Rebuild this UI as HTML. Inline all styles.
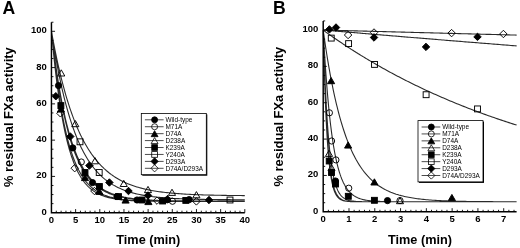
<!DOCTYPE html>
<html><head><meta charset="utf-8"><style>
html,body{margin:0;padding:0;background:#fff;width:520px;height:248px;overflow:hidden}
</style></head><body>
<svg width="520" height="248" viewBox="0 0 520 248" style="display:block;filter:grayscale(1)">
<rect width="520" height="248" fill="#fff"/>
<text x="2.6" y="13.6" style="font-family:'Liberation Sans',sans-serif;font-weight:bold;font-size:17.6px">A</text>
<text x="273.0" y="13.6" style="font-family:'Liberation Sans',sans-serif;font-weight:bold;font-size:17.6px">B</text>
<text transform="translate(13.0,117.1) rotate(-90)" text-anchor="middle" style="font-family:'Liberation Sans',sans-serif;font-weight:bold;font-size:12.9px">% residual FXa activity</text>
<text transform="translate(283.4,116.6) rotate(-90)" text-anchor="middle" style="font-family:'Liberation Sans',sans-serif;font-weight:bold;font-size:12.9px">% residual FXa activity</text>
<text x="148.3" y="243.8" text-anchor="middle" style="font-family:'Liberation Sans',sans-serif;font-weight:bold;font-size:12.7px">Time (min)</text>
<text x="420.0" y="243.8" text-anchor="middle" style="font-family:'Liberation Sans',sans-serif;font-weight:bold;font-size:12.7px">Time (min)</text>
<path d="M51.45,31.30 L51.51,31.82 L51.62,32.88 L51.78,34.32 L51.98,36.06 L52.21,38.06 L52.46,40.29 L52.74,42.72 L53.05,45.32 L53.38,48.08 L53.74,50.97 L54.12,53.99 L54.52,57.11 L54.93,60.31 L55.37,63.60 L55.83,66.94 L56.31,70.33 L56.80,73.77 L57.31,77.23 L57.84,80.71 L58.39,84.20 L58.95,87.69 L59.53,91.17 L60.13,94.64 L60.74,98.08 L61.37,101.50 L62.01,104.88 L62.67,108.23 L63.34,111.52 L64.03,114.77 L64.73,117.97 L65.44,121.10 L66.17,124.18 L66.92,127.19 L67.67,130.14 L68.44,133.02 L69.23,135.83 L70.02,138.57 L70.83,141.23 L71.65,143.82 L72.49,146.34 L73.34,148.78 L74.20,151.14 L75.07,153.43 L75.96,155.65 L76.85,157.79 L77.76,159.86 L78.68,161.85 L79.62,163.77 L80.56,165.62 L81.52,167.40 L82.49,169.11 L83.47,170.75 L84.46,172.32 L85.46,173.83 L86.47,175.28 L87.50,176.66 L88.53,177.99 L89.58,179.25 L90.63,180.46 L91.70,181.61 L92.78,182.71 L93.87,183.75 L94.97,184.75 L96.08,185.70 L97.20,186.60 L98.33,187.45 L99.48,188.27 L100.63,189.04 L101.79,189.77 L102.96,190.46 L104.14,191.11 L105.34,191.73 L106.54,192.32 L107.75,192.87 L108.97,193.40 L110.21,193.89 L111.45,194.36 L112.70,194.79 L113.96,195.21 L115.23,195.60 L116.51,195.96 L117.80,196.30 L119.10,196.63 L120.41,196.93 L121.73,197.22 L123.06,197.48 L124.39,197.73 L125.74,197.97 L127.09,198.19 L128.46,198.39 L129.83,198.58 L131.22,198.76 L132.61,198.93 L134.01,199.09 L135.42,199.24 L136.84,199.37 L138.26,199.50 L139.70,199.62 L141.15,199.73 L142.60,199.83 L144.06,199.92 L145.53,200.01 L147.01,200.10 L148.50,200.17 L150.00,200.24 L151.51,200.31 L153.02,200.37 L154.54,200.43 L156.07,200.48 L157.61,200.53 L159.16,200.57 L160.72,200.61 L162.29,200.65 L163.86,200.69 L165.44,200.72 L167.03,200.75 L168.63,200.78 L170.24,200.81 L171.85,200.83 L173.47,200.85 L175.10,200.87 L176.74,200.89 L178.39,200.91 L180.05,200.92 L181.71,200.94 L183.38,200.95 L185.06,200.96 L186.75,200.97 L188.44,200.98 L190.15,200.99 L191.86,201.00 L193.58,201.01 L195.30,201.02 L197.04,201.02 L198.78,201.03 L200.53,201.03 L202.29,201.04 L204.05,201.04 L205.82,201.05 L207.61,201.05 L209.39,201.06 L211.19,201.06 L212.99,201.06 L214.80,201.06 L216.62,201.07 L218.45,201.07 L220.28,201.07 L222.13,201.07 L223.97,201.07 L225.83,201.08 L227.69,201.08 L229.57,201.08 L231.44,201.08 L233.33,201.08 L235.22,201.08 L237.12,201.08 L239.03,201.08 L240.95,201.08 L242.87,201.08 L244.80,201.09 M51.45,31.30 L51.51,31.80 L51.62,32.82 L51.78,34.20 L51.98,35.88 L52.21,37.80 L52.46,39.95 L52.74,42.29 L53.05,44.80 L53.38,47.46 L53.74,50.26 L54.12,53.17 L54.52,56.19 L54.93,59.30 L55.37,62.48 L55.83,65.72 L56.31,69.01 L56.80,72.35 L57.31,75.72 L57.84,79.11 L58.39,82.51 L58.95,85.92 L59.53,89.32 L60.13,92.71 L60.74,96.09 L61.37,99.44 L62.01,102.76 L62.67,106.05 L63.34,109.29 L64.03,112.50 L64.73,115.65 L65.44,118.75 L66.17,121.80 L66.92,124.79 L67.67,127.72 L68.44,130.58 L69.23,133.38 L70.02,136.12 L70.83,138.78 L71.65,141.38 L72.49,143.90 L73.34,146.35 L74.20,148.74 L75.07,151.05 L75.96,153.29 L76.85,155.45 L77.76,157.55 L78.68,159.58 L79.62,161.53 L80.56,163.42 L81.52,165.24 L82.49,166.99 L83.47,168.67 L84.46,170.29 L85.46,171.85 L86.47,173.34 L87.50,174.77 L88.53,176.14 L89.58,177.46 L90.63,178.72 L91.70,179.92 L92.78,181.07 L93.87,182.16 L94.97,183.21 L96.08,184.21 L97.20,185.16 L98.33,186.06 L99.48,186.93 L100.63,187.75 L101.79,188.52 L102.96,189.26 L104.14,189.97 L105.34,190.63 L106.54,191.26 L107.75,191.86 L108.97,192.42 L110.21,192.96 L111.45,193.47 L112.70,193.94 L113.96,194.39 L115.23,194.82 L116.51,195.22 L117.80,195.60 L119.10,195.96 L120.41,196.29 L121.73,196.61 L123.06,196.91 L124.39,197.19 L125.74,197.45 L127.09,197.70 L128.46,197.93 L129.83,198.14 L131.22,198.35 L132.61,198.54 L134.01,198.72 L135.42,198.88 L136.84,199.04 L138.26,199.19 L139.70,199.32 L141.15,199.45 L142.60,199.57 L144.06,199.68 L145.53,199.78 L147.01,199.88 L148.50,199.97 L150.00,200.05 L151.51,200.13 L153.02,200.20 L154.54,200.27 L156.07,200.33 L157.61,200.39 L159.16,200.44 L160.72,200.49 L162.29,200.54 L163.86,200.58 L165.44,200.62 L167.03,200.66 L168.63,200.69 L170.24,200.73 L171.85,200.76 L173.47,200.78 L175.10,200.81 L176.74,200.83 L178.39,200.85 L180.05,200.87 L181.71,200.89 L183.38,200.91 L185.06,200.92 L186.75,200.94 L188.44,200.95 L190.15,200.96 L191.86,200.97 L193.58,200.98 L195.30,200.99 L197.04,201.00 L198.78,201.01 L200.53,201.01 L202.29,201.02 L204.05,201.03 L205.82,201.03 L207.61,201.04 L209.39,201.04 L211.19,201.05 L212.99,201.05 L214.80,201.05 L216.62,201.06 L218.45,201.06 L220.28,201.06 L222.13,201.07 L223.97,201.07 L225.83,201.07 L227.69,201.07 L229.57,201.07 L231.44,201.08 L233.33,201.08 L235.22,201.08 L237.12,201.08 L239.03,201.08 L240.95,201.08 L242.87,201.08 L244.80,201.08 M51.45,31.30 L51.51,31.91 L51.62,33.13 L51.78,34.79 L51.98,36.79 L52.21,39.09 L52.46,41.65 L52.74,44.43 L53.05,47.40 L53.38,50.55 L53.74,53.84 L54.12,57.25 L54.52,60.78 L54.93,64.39 L55.37,68.07 L55.83,71.80 L56.31,75.58 L56.80,79.39 L57.31,83.21 L57.84,87.03 L58.39,90.85 L58.95,94.65 L59.53,98.43 L60.13,102.17 L60.74,105.87 L61.37,109.52 L62.01,113.11 L62.67,116.64 L63.34,120.11 L64.03,123.50 L64.73,126.82 L65.44,130.06 L66.17,133.22 L66.92,136.29 L67.67,139.28 L68.44,142.18 L69.23,145.00 L70.02,147.72 L70.83,150.35 L71.65,152.90 L72.49,155.35 L73.34,157.71 L74.20,159.99 L75.07,162.17 L75.96,164.27 L76.85,166.29 L77.76,168.22 L78.68,170.06 L79.62,171.83 L80.56,173.52 L81.52,175.13 L82.49,176.66 L83.47,178.12 L84.46,179.52 L85.46,180.84 L86.47,182.09 L87.50,183.29 L88.53,184.42 L89.58,185.49 L90.63,186.50 L91.70,187.46 L92.78,188.37 L93.87,189.22 L94.97,190.03 L96.08,190.79 L97.20,191.51 L98.33,192.18 L99.48,192.82 L100.63,193.41 L101.79,193.97 L102.96,194.50 L104.14,194.99 L105.34,195.45 L106.54,195.88 L107.75,196.29 L108.97,196.66 L110.21,197.02 L111.45,197.34 L112.70,197.65 L113.96,197.94 L115.23,198.20 L116.51,198.45 L117.80,198.68 L119.10,198.90 L120.41,199.10 L121.73,199.28 L123.06,199.45 L124.39,199.61 L125.74,199.76 L127.09,199.90 L128.46,200.02 L129.83,200.14 L131.22,200.25 L132.61,200.35 L134.01,200.44 L135.42,200.53 L136.84,200.60 L138.26,200.68 L139.70,200.74 L141.15,200.80 L142.60,200.86 L144.06,200.91 L145.53,200.96 L147.01,201.00 L148.50,201.04 L150.00,201.08 L151.51,201.11 L153.02,201.14 L154.54,201.17 L156.07,201.20 L157.61,201.22 L159.16,201.24 L160.72,201.26 L162.29,201.28 L163.86,201.29 L165.44,201.31 L167.03,201.32 L168.63,201.34 L170.24,201.35 L171.85,201.36 L173.47,201.37 L175.10,201.37 L176.74,201.38 L178.39,201.39 L180.05,201.40 L181.71,201.40 L183.38,201.41 L185.06,201.41 L186.75,201.41 L188.44,201.42 L190.15,201.42 L191.86,201.43 L193.58,201.43 L195.30,201.43 L197.04,201.43 L198.78,201.44 L200.53,201.44 L202.29,201.44 L204.05,201.44 L205.82,201.44 L207.61,201.44 L209.39,201.44 L211.19,201.44 L212.99,201.45 L214.80,201.45 L216.62,201.45 L218.45,201.45 L220.28,201.45 L222.13,201.45 L223.97,201.45 L225.83,201.45 L227.69,201.45 L229.57,201.45 L231.44,201.45 L233.33,201.45 L235.22,201.45 L237.12,201.45 L239.03,201.45 L240.95,201.45 L242.87,201.45 L244.80,201.45 M51.45,31.30 L51.51,31.62 L51.62,32.28 L51.78,33.16 L51.98,34.24 L52.21,35.49 L52.46,36.88 L52.74,38.41 L53.05,40.06 L53.38,41.81 L53.74,43.67 L54.12,45.62 L54.52,47.64 L54.93,49.75 L55.37,51.92 L55.83,54.15 L56.31,56.44 L56.80,58.77 L57.31,61.15 L57.84,63.56 L58.39,66.01 L58.95,68.48 L59.53,70.98 L60.13,73.49 L60.74,76.02 L61.37,78.56 L62.01,81.10 L62.67,83.64 L63.34,86.19 L64.03,88.73 L64.73,91.26 L65.44,93.78 L66.17,96.29 L66.92,98.79 L67.67,101.26 L68.44,103.71 L69.23,106.14 L70.02,108.55 L70.83,110.93 L71.65,113.28 L72.49,115.60 L73.34,117.89 L74.20,120.15 L75.07,122.37 L75.96,124.55 L76.85,126.70 L77.76,128.82 L78.68,130.89 L79.62,132.93 L80.56,134.92 L81.52,136.88 L82.49,138.79 L83.47,140.67 L84.46,142.50 L85.46,144.30 L86.47,146.05 L87.50,147.76 L88.53,149.43 L89.58,151.06 L90.63,152.64 L91.70,154.19 L92.78,155.69 L93.87,157.16 L94.97,158.59 L96.08,159.97 L97.20,161.32 L98.33,162.62 L99.48,163.89 L100.63,165.13 L101.79,166.32 L102.96,167.48 L104.14,168.60 L105.34,169.68 L106.54,170.74 L107.75,171.75 L108.97,172.74 L110.21,173.69 L111.45,174.61 L112.70,175.49 L113.96,176.35 L115.23,177.18 L116.51,177.98 L117.80,178.75 L119.10,179.49 L120.41,180.20 L121.73,180.89 L123.06,181.55 L124.39,182.19 L125.74,182.80 L127.09,183.39 L128.46,183.96 L129.83,184.50 L131.22,185.02 L132.61,185.52 L134.01,186.00 L135.42,186.47 L136.84,186.91 L138.26,187.33 L139.70,187.74 L141.15,188.13 L142.60,188.50 L144.06,188.86 L145.53,189.20 L147.01,189.53 L148.50,189.84 L150.00,190.14 L151.51,190.42 L153.02,190.70 L154.54,190.96 L156.07,191.20 L157.61,191.44 L159.16,191.67 L160.72,191.88 L162.29,192.09 L163.86,192.28 L165.44,192.47 L167.03,192.65 L168.63,192.82 L170.24,192.98 L171.85,193.13 L173.47,193.28 L175.10,193.41 L176.74,193.55 L178.39,193.67 L180.05,193.79 L181.71,193.90 L183.38,194.01 L185.06,194.11 L186.75,194.21 L188.44,194.30 L190.15,194.38 L191.86,194.47 L193.58,194.54 L195.30,194.62 L197.04,194.69 L198.78,194.75 L200.53,194.82 L202.29,194.87 L204.05,194.93 L205.82,194.98 L207.61,195.03 L209.39,195.08 L211.19,195.12 L212.99,195.17 L214.80,195.21 L216.62,195.24 L218.45,195.28 L220.28,195.31 L222.13,195.34 L223.97,195.37 L225.83,195.40 L227.69,195.43 L229.57,195.45 L231.44,195.48 L233.33,195.50 L235.22,195.52 L237.12,195.54 L239.03,195.56 L240.95,195.57 L242.87,195.59 L244.80,195.61 M51.45,31.30 L51.51,31.81 L51.62,32.85 L51.78,34.26 L51.98,35.97 L52.21,37.93 L52.46,40.12 L52.74,42.50 L53.05,45.06 L53.38,47.77 L53.74,50.62 L54.12,53.58 L54.52,56.65 L54.93,59.81 L55.37,63.04 L55.83,66.33 L56.31,69.68 L56.80,73.06 L57.31,76.48 L57.84,79.91 L58.39,83.36 L58.95,86.81 L59.53,90.25 L60.13,93.68 L60.74,97.09 L61.37,100.47 L62.01,103.83 L62.67,107.14 L63.34,110.42 L64.03,113.64 L64.73,116.82 L65.44,119.94 L66.17,123.00 L66.92,126.00 L67.67,128.94 L68.44,131.81 L69.23,134.62 L70.02,137.35 L70.83,140.02 L71.65,142.61 L72.49,145.13 L73.34,147.58 L74.20,149.95 L75.07,152.26 L75.96,154.48 L76.85,156.64 L77.76,158.72 L78.68,160.73 L79.62,162.67 L80.56,164.54 L81.52,166.33 L82.49,168.06 L83.47,169.73 L84.46,171.32 L85.46,172.86 L86.47,174.33 L87.50,175.73 L88.53,177.08 L89.58,178.37 L90.63,179.60 L91.70,180.78 L92.78,181.90 L93.87,182.98 L94.97,184.00 L96.08,184.97 L97.20,185.90 L98.33,186.78 L99.48,187.61 L100.63,188.41 L101.79,189.16 L102.96,189.88 L104.14,190.56 L105.34,191.20 L106.54,191.81 L107.75,192.38 L108.97,192.92 L110.21,193.44 L111.45,193.92 L112.70,194.38 L113.96,194.81 L115.23,195.22 L116.51,195.60 L117.80,195.96 L119.10,196.30 L120.41,196.62 L121.73,196.92 L123.06,197.21 L124.39,197.47 L125.74,197.72 L127.09,197.95 L128.46,198.17 L129.83,198.37 L131.22,198.56 L132.61,198.74 L134.01,198.91 L135.42,199.07 L136.84,199.21 L138.26,199.35 L139.70,199.48 L141.15,199.59 L142.60,199.70 L144.06,199.81 L145.53,199.90 L147.01,199.99 L148.50,200.08 L150.00,200.15 L151.51,200.22 L153.02,200.29 L154.54,200.35 L156.07,200.41 L157.61,200.46 L159.16,200.51 L160.72,200.56 L162.29,200.60 L163.86,200.64 L165.44,200.68 L167.03,200.71 L168.63,200.74 L170.24,200.77 L171.85,200.79 L173.47,200.82 L175.10,200.84 L176.74,200.86 L178.39,200.88 L180.05,200.90 L181.71,200.91 L183.38,200.93 L185.06,200.94 L186.75,200.96 L188.44,200.97 L190.15,200.98 L191.86,200.99 L193.58,201.00 L195.30,201.00 L197.04,201.01 L198.78,201.02 L200.53,201.03 L202.29,201.03 L204.05,201.04 L205.82,201.04 L207.61,201.05 L209.39,201.05 L211.19,201.05 L212.99,201.06 L214.80,201.06 L216.62,201.06 L218.45,201.07 L220.28,201.07 L222.13,201.07 L223.97,201.07 L225.83,201.07 L227.69,201.07 L229.57,201.08 L231.44,201.08 L233.33,201.08 L235.22,201.08 L237.12,201.08 L239.03,201.08 L240.95,201.08 L242.87,201.08 L244.80,201.08 M51.45,31.30 L51.51,31.68 L51.62,32.45 L51.78,33.49 L51.98,34.76 L52.21,36.23 L52.46,37.87 L52.74,39.66 L53.05,41.59 L53.38,43.64 L53.74,45.80 L54.12,48.07 L54.52,50.43 L54.93,52.87 L55.37,55.38 L55.83,57.95 L56.31,60.59 L56.80,63.27 L57.31,65.99 L57.84,68.75 L58.39,71.54 L58.95,74.35 L59.53,77.17 L60.13,80.01 L60.74,82.86 L61.37,85.71 L62.01,88.55 L62.67,91.39 L63.34,94.22 L64.03,97.03 L64.73,99.83 L65.44,102.60 L66.17,105.34 L66.92,108.06 L67.67,110.75 L68.44,113.41 L69.23,116.03 L70.02,118.61 L70.83,121.16 L71.65,123.66 L72.49,126.12 L73.34,128.53 L74.20,130.90 L75.07,133.23 L75.96,135.51 L76.85,137.73 L77.76,139.91 L78.68,142.04 L79.62,144.12 L80.56,146.16 L81.52,148.14 L82.49,150.06 L83.47,151.94 L84.46,153.77 L85.46,155.55 L86.47,157.28 L87.50,158.96 L88.53,160.59 L89.58,162.17 L90.63,163.70 L91.70,165.19 L92.78,166.62 L93.87,168.02 L94.97,169.36 L96.08,170.66 L97.20,171.92 L98.33,173.13 L99.48,174.30 L100.63,175.43 L101.79,176.52 L102.96,177.57 L104.14,178.58 L105.34,179.56 L106.54,180.49 L107.75,181.39 L108.97,182.25 L110.21,183.09 L111.45,183.88 L112.70,184.65 L113.96,185.38 L115.23,186.08 L116.51,186.76 L117.80,187.40 L119.10,188.02 L120.41,188.61 L121.73,189.18 L123.06,189.72 L124.39,190.24 L125.74,190.73 L127.09,191.20 L128.46,191.65 L129.83,192.08 L131.22,192.49 L132.61,192.88 L134.01,193.25 L135.42,193.61 L136.84,193.95 L138.26,194.27 L139.70,194.57 L141.15,194.86 L142.60,195.14 L144.06,195.40 L145.53,195.65 L147.01,195.88 L148.50,196.11 L150.00,196.32 L151.51,196.52 L153.02,196.71 L154.54,196.89 L156.07,197.06 L157.61,197.22 L159.16,197.38 L160.72,197.52 L162.29,197.66 L163.86,197.79 L165.44,197.91 L167.03,198.03 L168.63,198.14 L170.24,198.24 L171.85,198.34 L173.47,198.43 L175.10,198.52 L176.74,198.60 L178.39,198.67 L180.05,198.75 L181.71,198.81 L183.38,198.88 L185.06,198.94 L186.75,198.99 L188.44,199.05 L190.15,199.10 L191.86,199.14 L193.58,199.19 L195.30,199.23 L197.04,199.27 L198.78,199.31 L200.53,199.34 L202.29,199.37 L204.05,199.40 L205.82,199.43 L207.61,199.46 L209.39,199.48 L211.19,199.50 L212.99,199.53 L214.80,199.55 L216.62,199.57 L218.45,199.58 L220.28,199.60 L222.13,199.61 L223.97,199.63 L225.83,199.64 L227.69,199.66 L229.57,199.67 L231.44,199.68 L233.33,199.69 L235.22,199.70 L237.12,199.71 L239.03,199.71 L240.95,199.72 L242.87,199.73 L244.80,199.74 M51.45,31.30 L51.51,31.68 L51.62,32.45 L51.78,33.49 L51.98,34.76 L52.21,36.23 L52.46,37.87 L52.74,39.66 L53.05,41.59 L53.38,43.64 L53.74,45.80 L54.12,48.07 L54.52,50.43 L54.93,52.87 L55.37,55.38 L55.83,57.95 L56.31,60.59 L56.80,63.27 L57.31,65.99 L57.84,68.75 L58.39,71.54 L58.95,74.35 L59.53,77.17 L60.13,80.01 L60.74,82.86 L61.37,85.71 L62.01,88.55 L62.67,91.39 L63.34,94.22 L64.03,97.03 L64.73,99.83 L65.44,102.60 L66.17,105.34 L66.92,108.06 L67.67,110.75 L68.44,113.41 L69.23,116.03 L70.02,118.61 L70.83,121.16 L71.65,123.66 L72.49,126.12 L73.34,128.53 L74.20,130.90 L75.07,133.23 L75.96,135.51 L76.85,137.73 L77.76,139.91 L78.68,142.04 L79.62,144.12 L80.56,146.16 L81.52,148.14 L82.49,150.06 L83.47,151.94 L84.46,153.77 L85.46,155.55 L86.47,157.28 L87.50,158.96 L88.53,160.59 L89.58,162.17 L90.63,163.70 L91.70,165.19 L92.78,166.62 L93.87,168.02 L94.97,169.36 L96.08,170.66 L97.20,171.92 L98.33,173.13 L99.48,174.30 L100.63,175.43 L101.79,176.52 L102.96,177.57 L104.14,178.58 L105.34,179.56 L106.54,180.49 L107.75,181.39 L108.97,182.25 L110.21,183.09 L111.45,183.88 L112.70,184.65 L113.96,185.38 L115.23,186.08 L116.51,186.76 L117.80,187.40 L119.10,188.02 L120.41,188.61 L121.73,189.18 L123.06,189.72 L124.39,190.24 L125.74,190.73 L127.09,191.20 L128.46,191.65 L129.83,192.08 L131.22,192.49 L132.61,192.88 L134.01,193.25 L135.42,193.61 L136.84,193.95 L138.26,194.27 L139.70,194.57 L141.15,194.86 L142.60,195.14 L144.06,195.40 L145.53,195.65 L147.01,195.88 L148.50,196.11 L150.00,196.32 L151.51,196.52 L153.02,196.71 L154.54,196.89 L156.07,197.06 L157.61,197.22 L159.16,197.38 L160.72,197.52 L162.29,197.66 L163.86,197.79 L165.44,197.91 L167.03,198.03 L168.63,198.14 L170.24,198.24 L171.85,198.34 L173.47,198.43 L175.10,198.52 L176.74,198.60 L178.39,198.67 L180.05,198.75 L181.71,198.81 L183.38,198.88 L185.06,198.94 L186.75,198.99 L188.44,199.05 L190.15,199.10 L191.86,199.14 L193.58,199.19 L195.30,199.23 L197.04,199.27 L198.78,199.31 L200.53,199.34 L202.29,199.37 L204.05,199.40 L205.82,199.43 L207.61,199.46 L209.39,199.48 L211.19,199.50 L212.99,199.53 L214.80,199.55 L216.62,199.57 L218.45,199.58 L220.28,199.60 L222.13,199.61 L223.97,199.63 L225.83,199.64 L227.69,199.66 L229.57,199.67 L231.44,199.68 L233.33,199.69 L235.22,199.70 L237.12,199.71 L239.03,199.71 L240.95,199.72 L242.87,199.73 L244.80,199.74 M51.45,31.30 L51.51,31.95 L51.62,33.25 L51.78,35.02 L51.98,37.15 L52.21,39.60 L52.46,42.32 L52.74,45.27 L53.05,48.42 L53.38,51.75 L53.74,55.23 L54.12,58.84 L54.52,62.55 L54.93,66.35 L55.37,70.21 L55.83,74.13 L56.31,78.08 L56.80,82.06 L57.31,86.04 L57.84,90.02 L58.39,93.98 L58.95,97.92 L59.53,101.82 L60.13,105.67 L60.74,109.47 L61.37,113.21 L62.01,116.89 L62.67,120.49 L63.34,124.01 L64.03,127.45 L64.73,130.81 L65.44,134.08 L66.17,137.25 L66.92,140.33 L67.67,143.32 L68.44,146.21 L69.23,149.00 L70.02,151.70 L70.83,154.29 L71.65,156.79 L72.49,159.19 L73.34,161.50 L74.20,163.71 L75.07,165.83 L75.96,167.86 L76.85,169.80 L77.76,171.65 L78.68,173.41 L79.62,175.09 L80.56,176.69 L81.52,178.21 L82.49,179.65 L83.47,181.02 L84.46,182.32 L85.46,183.54 L86.47,184.71 L87.50,185.80 L88.53,186.84 L89.58,187.82 L90.63,188.74 L91.70,189.61 L92.78,190.42 L93.87,191.19 L94.97,191.91 L96.08,192.59 L97.20,193.22 L98.33,193.82 L99.48,194.37 L100.63,194.89 L101.79,195.38 L102.96,195.83 L104.14,196.26 L105.34,196.65 L106.54,197.02 L107.75,197.36 L108.97,197.68 L110.21,197.97 L111.45,198.25 L112.70,198.50 L113.96,198.74 L115.23,198.96 L116.51,199.16 L117.80,199.35 L119.10,199.52 L120.41,199.68 L121.73,199.83 L123.06,199.97 L124.39,200.09 L125.74,200.21 L127.09,200.32 L128.46,200.41 L129.83,200.50 L131.22,200.59 L132.61,200.66 L134.01,200.73 L135.42,200.80 L136.84,200.86 L138.26,200.91 L139.70,200.96 L141.15,201.00 L142.60,201.05 L144.06,201.08 L145.53,201.12 L147.01,201.15 L148.50,201.18 L150.00,201.20 L151.51,201.23 L153.02,201.25 L154.54,201.27 L156.07,201.29 L157.61,201.30 L159.16,201.32 L160.72,201.33 L162.29,201.34 L163.86,201.35 L165.44,201.36 L167.03,201.37 L168.63,201.38 L170.24,201.39 L171.85,201.39 L173.47,201.40 L175.10,201.41 L176.74,201.41 L178.39,201.42 L180.05,201.42 L181.71,201.42 L183.38,201.43 L185.06,201.43 L186.75,201.43 L188.44,201.43 L190.15,201.44 L191.86,201.44 L193.58,201.44 L195.30,201.44 L197.04,201.44 L198.78,201.44 L200.53,201.44 L202.29,201.45 L204.05,201.45 L205.82,201.45 L207.61,201.45 L209.39,201.45 L211.19,201.45 L212.99,201.45 L214.80,201.45 L216.62,201.45 L218.45,201.45 L220.28,201.45 L222.13,201.45 L223.97,201.45 L225.83,201.45 L227.69,201.45 L229.57,201.45 L231.44,201.45 L233.33,201.45 L235.22,201.45 L237.12,201.45 L239.03,201.45 L240.95,201.45 L242.87,201.45 L244.80,201.45" fill="none" stroke="#2a2a2a" stroke-width="1.1" stroke-linejoin="round"/>
<path d="M323.20,30.00 L323.26,32.44 L323.37,37.28 L323.53,43.65 L323.73,51.12 L323.96,59.37 L324.21,68.14 L324.49,77.20 L324.80,86.38 L325.13,95.52 L325.49,104.49 L325.87,113.19 L326.27,121.53 L326.68,129.46 L327.12,136.92 L327.58,143.89 L328.06,150.35 L328.55,156.30 L329.07,161.73 L329.60,166.67 L330.14,171.13 L330.71,175.13 L331.29,178.71 L331.88,181.89 L332.49,184.69 L333.12,187.16 L333.76,189.32 L334.42,191.20 L335.09,192.83 L335.78,194.23 L336.48,195.44 L337.20,196.48 L337.93,197.36 L338.67,198.11 L339.43,198.74 L340.20,199.27 L340.98,199.72 L341.78,200.09 L342.59,200.40 L343.41,200.66 L344.25,200.88 L345.09,201.05 L345.95,201.20 L346.83,201.31 L347.71,201.41 L348.61,201.49 L349.52,201.55 L350.44,201.60 L351.37,201.64 L352.32,201.68 L353.28,201.70 L354.24,201.72 L355.22,201.74 L356.21,201.75 L357.22,201.76 L358.23,201.77 L359.25,201.78 L360.29,201.78 L361.34,201.79 L362.39,201.79 L363.46,201.79 L364.54,201.79 L365.63,201.80 L366.73,201.80 L367.84,201.80 L368.96,201.80 L370.10,201.80 L371.24,201.80 L372.39,201.80 L373.55,201.80 L374.73,201.80 L375.91,201.80 L377.10,201.80 L378.30,201.80 L379.52,201.80 L380.74,201.80 L381.97,201.80 L383.21,201.80 L384.47,201.80 L385.73,201.80 L387.00,201.80 L388.28,201.80 L389.57,201.80 L390.87,201.80 L392.18,201.80 L393.50,201.80 L394.82,201.80 L396.16,201.80 L397.51,201.80 L398.86,201.80 L400.23,201.80 L401.60,201.80 L402.99,201.80 L404.38,201.80 L405.78,201.80 L407.19,201.80 L408.61,201.80 L410.04,201.80 L411.47,201.80 L412.92,201.80 L414.37,201.80 L415.84,201.80 L417.31,201.80 L418.79,201.80 L420.28,201.80 L421.78,201.80 L423.28,201.80 L424.80,201.80 L426.32,201.80 L427.85,201.80 L429.39,201.80 L430.94,201.80 L432.50,201.80 L434.06,201.80 L435.64,201.80 L437.22,201.80 L438.81,201.80 L440.41,201.80 L442.02,201.80 L443.63,201.80 L445.25,201.80 L446.89,201.80 L448.53,201.80 L450.17,201.80 L451.83,201.80 L453.49,201.80 L455.16,201.80 L456.84,201.80 L458.53,201.80 L460.23,201.80 L461.93,201.80 L463.64,201.80 L465.36,201.80 L467.09,201.80 L468.82,201.80 L470.57,201.80 L472.32,201.80 L474.08,201.80 L475.84,201.80 L477.61,201.80 L479.40,201.80 L481.18,201.80 L482.98,201.80 L484.79,201.80 L486.60,201.80 L488.42,201.80 L490.24,201.80 L492.08,201.80 L493.92,201.80 L495.77,201.80 L497.63,201.80 L499.49,201.80 L501.36,201.80 L503.24,201.80 L505.13,201.80 L507.02,201.80 L508.92,201.80 L510.83,201.80 L512.75,201.80 L514.67,201.80 L516.60,201.80 M323.20,30.00 L323.26,31.07 L323.37,33.22 L323.53,36.11 L323.73,39.58 L323.96,43.53 L324.21,47.87 L324.49,52.52 L324.80,57.44 L325.13,62.56 L325.49,67.82 L325.87,73.20 L326.27,78.65 L326.68,84.12 L327.12,89.60 L327.58,95.04 L328.06,100.42 L328.55,105.73 L329.07,110.93 L329.60,116.01 L330.14,120.96 L330.71,125.76 L331.29,130.40 L331.88,134.87 L332.49,139.18 L333.12,143.30 L333.76,147.24 L334.42,151.00 L335.09,154.58 L335.78,157.97 L336.48,161.19 L337.20,164.22 L337.93,167.08 L338.67,169.77 L339.43,172.30 L340.20,174.67 L340.98,176.88 L341.78,178.95 L342.59,180.87 L343.41,182.66 L344.25,184.32 L345.09,185.86 L345.95,187.28 L346.83,188.59 L347.71,189.80 L348.61,190.92 L349.52,191.94 L350.44,192.88 L351.37,193.74 L352.32,194.53 L353.28,195.24 L354.24,195.90 L355.22,196.49 L356.21,197.04 L357.22,197.53 L358.23,197.97 L359.25,198.38 L360.29,198.74 L361.34,199.07 L362.39,199.36 L363.46,199.63 L364.54,199.87 L365.63,200.09 L366.73,200.28 L367.84,200.45 L368.96,200.61 L370.10,200.75 L371.24,200.87 L372.39,200.98 L373.55,201.08 L374.73,201.16 L375.91,201.24 L377.10,201.31 L378.30,201.37 L379.52,201.42 L380.74,201.47 L381.97,201.51 L383.21,201.55 L384.47,201.58 L385.73,201.61 L387.00,201.63 L388.28,201.65 L389.57,201.67 L390.87,201.69 L392.18,201.71 L393.50,201.72 L394.82,201.73 L396.16,201.74 L397.51,201.75 L398.86,201.75 L400.23,201.76 L401.60,201.77 L402.99,201.77 L404.38,201.78 L405.78,201.78 L407.19,201.78 L408.61,201.78 L410.04,201.79 L411.47,201.79 L412.92,201.79 L414.37,201.79 L415.84,201.79 L417.31,201.79 L418.79,201.80 L420.28,201.80 L421.78,201.80 L423.28,201.80 L424.80,201.80 L426.32,201.80 L427.85,201.80 L429.39,201.80 L430.94,201.80 L432.50,201.80 L434.06,201.80 L435.64,201.80 L437.22,201.80 L438.81,201.80 L440.41,201.80 L442.02,201.80 L443.63,201.80 L445.25,201.80 L446.89,201.80 L448.53,201.80 L450.17,201.80 L451.83,201.80 L453.49,201.80 L455.16,201.80 L456.84,201.80 L458.53,201.80 L460.23,201.80 L461.93,201.80 L463.64,201.80 L465.36,201.80 L467.09,201.80 L468.82,201.80 L470.57,201.80 L472.32,201.80 L474.08,201.80 L475.84,201.80 L477.61,201.80 L479.40,201.80 L481.18,201.80 L482.98,201.80 L484.79,201.80 L486.60,201.80 L488.42,201.80 L490.24,201.80 L492.08,201.80 L493.92,201.80 L495.77,201.80 L497.63,201.80 L499.49,201.80 L501.36,201.80 L503.24,201.80 L505.13,201.80 L507.02,201.80 L508.92,201.80 L510.83,201.80 L512.75,201.80 L514.67,201.80 L516.60,201.80 M323.20,30.00 L323.26,30.42 L323.37,31.27 L323.53,32.43 L323.73,33.83 L323.96,35.45 L324.21,37.25 L324.49,39.23 L324.80,41.35 L325.13,43.61 L325.49,45.99 L325.87,48.48 L326.27,51.06 L326.68,53.73 L327.12,56.48 L327.58,59.29 L328.06,62.16 L328.55,65.07 L329.07,68.03 L329.60,71.02 L330.14,74.04 L330.71,77.07 L331.29,80.12 L331.88,83.18 L332.49,86.23 L333.12,89.28 L333.76,92.32 L334.42,95.35 L335.09,98.36 L335.78,101.35 L336.48,104.31 L337.20,107.24 L337.93,110.14 L338.67,113.00 L339.43,115.82 L340.20,118.60 L340.98,121.33 L341.78,124.02 L342.59,126.66 L343.41,129.25 L344.25,131.79 L345.09,134.28 L345.95,136.72 L346.83,139.10 L347.71,141.42 L348.61,143.69 L349.52,145.90 L350.44,148.05 L351.37,150.15 L352.32,152.19 L353.28,154.18 L354.24,156.10 L355.22,157.97 L356.21,159.79 L357.22,161.55 L358.23,163.25 L359.25,164.90 L360.29,166.49 L361.34,168.03 L362.39,169.52 L363.46,170.96 L364.54,172.35 L365.63,173.69 L366.73,174.98 L367.84,176.22 L368.96,177.41 L370.10,178.56 L371.24,179.67 L372.39,180.73 L373.55,181.75 L374.73,182.73 L375.91,183.66 L377.10,184.56 L378.30,185.43 L379.52,186.25 L380.74,187.04 L381.97,187.80 L383.21,188.52 L384.47,189.21 L385.73,189.87 L387.00,190.50 L388.28,191.10 L389.57,191.67 L390.87,192.22 L392.18,192.74 L393.50,193.24 L394.82,193.71 L396.16,194.16 L397.51,194.58 L398.86,194.99 L400.23,195.37 L401.60,195.74 L402.99,196.09 L404.38,196.42 L405.78,196.73 L407.19,197.03 L408.61,197.31 L410.04,197.57 L411.47,197.82 L412.92,198.06 L414.37,198.29 L415.84,198.50 L417.31,198.70 L418.79,198.89 L420.28,199.07 L421.78,199.24 L423.28,199.40 L424.80,199.55 L426.32,199.69 L427.85,199.82 L429.39,199.95 L430.94,200.07 L432.50,200.18 L434.06,200.28 L435.64,200.38 L437.22,200.47 L438.81,200.56 L440.41,200.64 L442.02,200.72 L443.63,200.79 L445.25,200.86 L446.89,200.92 L448.53,200.98 L450.17,201.04 L451.83,201.09 L453.49,201.14 L455.16,201.18 L456.84,201.23 L458.53,201.27 L460.23,201.30 L461.93,201.34 L463.64,201.37 L465.36,201.40 L467.09,201.43 L468.82,201.46 L470.57,201.48 L472.32,201.50 L474.08,201.53 L475.84,201.55 L477.61,201.56 L479.40,201.58 L481.18,201.60 L482.98,201.61 L484.79,201.63 L486.60,201.64 L488.42,201.65 L490.24,201.66 L492.08,201.67 L493.92,201.68 L495.77,201.69 L497.63,201.70 L499.49,201.71 L501.36,201.72 L503.24,201.72 L505.13,201.73 L507.02,201.73 L508.92,201.74 L510.83,201.74 L512.75,201.75 L514.67,201.75 L516.60,201.76 M323.20,30.00 L323.26,31.83 L323.37,35.49 L323.53,40.34 L323.73,46.10 L323.96,52.54 L324.21,59.48 L324.49,66.78 L324.80,74.31 L325.13,81.96 L325.49,89.63 L325.87,97.24 L326.27,104.71 L326.68,111.99 L327.12,119.04 L327.58,125.80 L328.06,132.25 L328.55,138.37 L329.07,144.14 L329.60,149.56 L330.14,154.62 L330.71,159.32 L331.29,163.66 L331.88,167.67 L332.49,171.34 L333.12,174.70 L333.76,177.76 L334.42,180.53 L335.09,183.03 L335.78,185.28 L336.48,187.30 L337.20,189.11 L337.93,190.72 L338.67,192.15 L339.43,193.42 L340.20,194.54 L340.98,195.53 L341.78,196.39 L342.59,197.15 L343.41,197.81 L344.25,198.38 L345.09,198.88 L345.95,199.31 L346.83,199.69 L347.71,200.01 L348.61,200.28 L349.52,200.52 L350.44,200.72 L351.37,200.89 L352.32,201.04 L353.28,201.16 L354.24,201.27 L355.22,201.36 L356.21,201.43 L357.22,201.50 L358.23,201.55 L359.25,201.59 L360.29,201.63 L361.34,201.66 L362.39,201.68 L363.46,201.71 L364.54,201.72 L365.63,201.74 L366.73,201.75 L367.84,201.76 L368.96,201.77 L370.10,201.77 L371.24,201.78 L372.39,201.78 L373.55,201.79 L374.73,201.79 L375.91,201.79 L377.10,201.79 L378.30,201.79 L379.52,201.80 L380.74,201.80 L381.97,201.80 L383.21,201.80 L384.47,201.80 L385.73,201.80 L387.00,201.80 L388.28,201.80 L389.57,201.80 L390.87,201.80 L392.18,201.80 L393.50,201.80 L394.82,201.80 L396.16,201.80 L397.51,201.80 L398.86,201.80 L400.23,201.80 L401.60,201.80 L402.99,201.80 L404.38,201.80 L405.78,201.80 L407.19,201.80 L408.61,201.80 L410.04,201.80 L411.47,201.80 L412.92,201.80 L414.37,201.80 L415.84,201.80 L417.31,201.80 L418.79,201.80 L420.28,201.80 L421.78,201.80 L423.28,201.80 L424.80,201.80 L426.32,201.80 L427.85,201.80 L429.39,201.80 L430.94,201.80 L432.50,201.80 L434.06,201.80 L435.64,201.80 L437.22,201.80 L438.81,201.80 L440.41,201.80 L442.02,201.80 L443.63,201.80 L445.25,201.80 L446.89,201.80 L448.53,201.80 L450.17,201.80 L451.83,201.80 L453.49,201.80 L455.16,201.80 L456.84,201.80 L458.53,201.80 L460.23,201.80 L461.93,201.80 L463.64,201.80 L465.36,201.80 L467.09,201.80 L468.82,201.80 L470.57,201.80 L472.32,201.80 L474.08,201.80 L475.84,201.80 L477.61,201.80 L479.40,201.80 L481.18,201.80 L482.98,201.80 L484.79,201.80 L486.60,201.80 L488.42,201.80 L490.24,201.80 L492.08,201.80 L493.92,201.80 L495.77,201.80 L497.63,201.80 L499.49,201.80 L501.36,201.80 L503.24,201.80 L505.13,201.80 L507.02,201.80 L508.92,201.80 L510.83,201.80 L512.75,201.80 L514.67,201.80 L516.60,201.80 M323.20,30.00 L323.26,32.28 L323.37,36.83 L323.53,42.83 L323.73,49.88 L323.96,57.69 L324.21,66.02 L324.49,74.67 L324.80,83.47 L325.13,92.28 L325.49,100.97 L325.87,109.44 L326.27,117.62 L326.68,125.44 L327.12,132.85 L327.58,139.82 L328.06,146.32 L328.55,152.36 L329.07,157.92 L329.60,163.01 L330.14,167.64 L330.71,171.84 L331.29,175.62 L331.88,179.01 L332.49,182.04 L333.12,184.72 L333.76,187.09 L334.42,189.18 L335.09,191.01 L335.78,192.60 L336.48,193.99 L337.20,195.19 L337.93,196.22 L338.67,197.10 L339.43,197.86 L340.20,198.51 L340.98,199.06 L341.78,199.52 L342.59,199.91 L343.41,200.24 L344.25,200.52 L345.09,200.75 L345.95,200.94 L346.83,201.10 L347.71,201.23 L348.61,201.34 L349.52,201.42 L350.44,201.50 L351.37,201.56 L352.32,201.60 L353.28,201.64 L354.24,201.68 L355.22,201.70 L356.21,201.72 L357.22,201.74 L358.23,201.75 L359.25,201.76 L360.29,201.77 L361.34,201.78 L362.39,201.78 L363.46,201.79 L364.54,201.79 L365.63,201.79 L366.73,201.79 L367.84,201.80 L368.96,201.80 L370.10,201.80 L371.24,201.80 L372.39,201.80 L373.55,201.80 L374.73,201.80 L375.91,201.80 L377.10,201.80 L378.30,201.80 L379.52,201.80 L380.74,201.80 L381.97,201.80 L383.21,201.80 L384.47,201.80 L385.73,201.80 L387.00,201.80 L388.28,201.80 L389.57,201.80 L390.87,201.80 L392.18,201.80 L393.50,201.80 L394.82,201.80 L396.16,201.80 L397.51,201.80 L398.86,201.80 L400.23,201.80 L401.60,201.80 L402.99,201.80 L404.38,201.80 L405.78,201.80 L407.19,201.80 L408.61,201.80 L410.04,201.80 L411.47,201.80 L412.92,201.80 L414.37,201.80 L415.84,201.80 L417.31,201.80 L418.79,201.80 L420.28,201.80 L421.78,201.80 L423.28,201.80 L424.80,201.80 L426.32,201.80 L427.85,201.80 L429.39,201.80 L430.94,201.80 L432.50,201.80 L434.06,201.80 L435.64,201.80 L437.22,201.80 L438.81,201.80 L440.41,201.80 L442.02,201.80 L443.63,201.80 L445.25,201.80 L446.89,201.80 L448.53,201.80 L450.17,201.80 L451.83,201.80 L453.49,201.80 L455.16,201.80 L456.84,201.80 L458.53,201.80 L460.23,201.80 L461.93,201.80 L463.64,201.80 L465.36,201.80 L467.09,201.80 L468.82,201.80 L470.57,201.80 L472.32,201.80 L474.08,201.80 L475.84,201.80 L477.61,201.80 L479.40,201.80 L481.18,201.80 L482.98,201.80 L484.79,201.80 L486.60,201.80 L488.42,201.80 L490.24,201.80 L492.08,201.80 L493.92,201.80 L495.77,201.80 L497.63,201.80 L499.49,201.80 L501.36,201.80 L503.24,201.80 L505.13,201.80 L507.02,201.80 L508.92,201.80 L510.83,201.80 L512.75,201.80 L514.67,201.80 L516.60,201.80 M323.20,30.18 L323.26,30.22 L323.37,30.31 L323.53,30.42 L323.73,30.56 L323.96,30.73 L324.21,30.91 L324.49,31.11 L324.80,31.34 L325.13,31.57 L325.49,31.83 L325.87,32.10 L326.27,32.38 L326.68,32.68 L327.12,32.99 L327.58,33.32 L328.06,33.66 L328.55,34.01 L329.07,34.37 L329.60,34.74 L330.14,35.12 L330.71,35.52 L331.29,35.92 L331.88,36.34 L332.49,36.77 L333.12,37.20 L333.76,37.64 L334.42,38.10 L335.09,38.56 L335.78,39.03 L336.48,39.51 L337.20,40.00 L337.93,40.49 L338.67,41.00 L339.43,41.51 L340.20,42.03 L340.98,42.55 L341.78,43.08 L342.59,43.62 L343.41,44.17 L344.25,44.72 L345.09,45.28 L345.95,45.85 L346.83,46.42 L347.71,46.99 L348.61,47.58 L349.52,48.16 L350.44,48.76 L351.37,49.36 L352.32,49.96 L353.28,50.57 L354.24,51.18 L355.22,51.80 L356.21,52.42 L357.22,53.05 L358.23,53.68 L359.25,54.32 L360.29,54.96 L361.34,55.60 L362.39,56.25 L363.46,56.90 L364.54,57.55 L365.63,58.21 L366.73,58.87 L367.84,59.53 L368.96,60.20 L370.10,60.87 L371.24,61.54 L372.39,62.22 L373.55,62.90 L374.73,63.58 L375.91,64.26 L377.10,64.95 L378.30,65.64 L379.52,66.33 L380.74,67.02 L381.97,67.71 L383.21,68.41 L384.47,69.10 L385.73,69.80 L387.00,70.50 L388.28,71.20 L389.57,71.91 L390.87,72.61 L392.18,73.32 L393.50,74.02 L394.82,74.73 L396.16,75.44 L397.51,76.15 L398.86,76.86 L400.23,77.57 L401.60,78.28 L402.99,78.99 L404.38,79.70 L405.78,80.41 L407.19,81.13 L408.61,81.84 L410.04,82.55 L411.47,83.26 L412.92,83.98 L414.37,84.69 L415.84,85.40 L417.31,86.11 L418.79,86.82 L420.28,87.54 L421.78,88.25 L423.28,88.96 L424.80,89.67 L426.32,90.38 L427.85,91.08 L429.39,91.79 L430.94,92.50 L432.50,93.20 L434.06,93.91 L435.64,94.61 L437.22,95.32 L438.81,96.02 L440.41,96.72 L442.02,97.42 L443.63,98.12 L445.25,98.81 L446.89,99.51 L448.53,100.20 L450.17,100.89 L451.83,101.58 L453.49,102.27 L455.16,102.96 L456.84,103.65 L458.53,104.33 L460.23,105.01 L461.93,105.70 L463.64,106.37 L465.36,107.05 L467.09,107.73 L468.82,108.40 L470.57,109.07 L472.32,109.74 L474.08,110.41 L475.84,111.07 L477.61,111.73 L479.40,112.39 L481.18,113.05 L482.98,113.71 L484.79,114.36 L486.60,115.01 L488.42,115.66 L490.24,116.31 L492.08,116.95 L493.92,117.59 L495.77,118.23 L497.63,118.87 L499.49,119.50 L501.36,120.13 L503.24,120.76 L505.13,121.39 L507.02,122.01 L508.92,122.63 L510.83,123.25 L512.75,123.87 L514.67,124.48 L516.60,125.09 M323.20,30.00 L323.26,30.00 L323.37,30.01 L323.53,30.03 L323.73,30.05 L323.96,30.06 L324.21,30.09 L324.49,30.11 L324.80,30.14 L325.13,30.17 L325.49,30.20 L325.87,30.23 L326.27,30.26 L326.68,30.30 L327.12,30.34 L327.58,30.38 L328.06,30.42 L328.55,30.46 L329.07,30.50 L329.60,30.55 L330.14,30.60 L330.71,30.64 L331.29,30.69 L331.88,30.75 L332.49,30.80 L333.12,30.85 L333.76,30.91 L334.42,30.96 L335.09,31.02 L335.78,31.08 L336.48,31.14 L337.20,31.20 L337.93,31.26 L338.67,31.33 L339.43,31.39 L340.20,31.46 L340.98,31.52 L341.78,31.59 L342.59,31.66 L343.41,31.73 L344.25,31.80 L345.09,31.87 L345.95,31.95 L346.83,32.02 L347.71,32.10 L348.61,32.17 L349.52,32.25 L350.44,32.33 L351.37,32.41 L352.32,32.49 L353.28,32.57 L354.24,32.65 L355.22,32.73 L356.21,32.82 L357.22,32.90 L358.23,32.99 L359.25,33.07 L360.29,33.16 L361.34,33.25 L362.39,33.34 L363.46,33.43 L364.54,33.52 L365.63,33.61 L366.73,33.71 L367.84,33.80 L368.96,33.89 L370.10,33.99 L371.24,34.09 L372.39,34.18 L373.55,34.28 L374.73,34.38 L375.91,34.48 L377.10,34.58 L378.30,34.68 L379.52,34.78 L380.74,34.88 L381.97,34.99 L383.21,35.09 L384.47,35.19 L385.73,35.30 L387.00,35.41 L388.28,35.51 L389.57,35.62 L390.87,35.73 L392.18,35.84 L393.50,35.95 L394.82,36.06 L396.16,36.17 L397.51,36.28 L398.86,36.39 L400.23,36.51 L401.60,36.62 L402.99,36.73 L404.38,36.85 L405.78,36.97 L407.19,37.08 L408.61,37.20 L410.04,37.32 L411.47,37.44 L412.92,37.56 L414.37,37.68 L415.84,37.80 L417.31,37.92 L418.79,38.04 L420.28,38.16 L421.78,38.28 L423.28,38.41 L424.80,38.53 L426.32,38.66 L427.85,38.78 L429.39,38.91 L430.94,39.03 L432.50,39.16 L434.06,39.29 L435.64,39.42 L437.22,39.55 L438.81,39.68 L440.41,39.81 L442.02,39.94 L443.63,40.07 L445.25,40.20 L446.89,40.33 L448.53,40.47 L450.17,40.60 L451.83,40.73 L453.49,40.87 L455.16,41.00 L456.84,41.14 L458.53,41.28 L460.23,41.41 L461.93,41.55 L463.64,41.69 L465.36,41.83 L467.09,41.96 L468.82,42.10 L470.57,42.24 L472.32,42.38 L474.08,42.52 L475.84,42.67 L477.61,42.81 L479.40,42.95 L481.18,43.09 L482.98,43.24 L484.79,43.38 L486.60,43.52 L488.42,43.67 L490.24,43.81 L492.08,43.96 L493.92,44.11 L495.77,44.25 L497.63,44.40 L499.49,44.55 L501.36,44.70 L503.24,44.84 L505.13,44.99 L507.02,45.14 L508.92,45.29 L510.83,45.44 L512.75,45.59 L514.67,45.74 L516.60,45.90 M323.20,30.00 L323.26,30.00 L323.37,30.00 L323.53,30.01 L323.73,30.01 L323.96,30.02 L324.21,30.03 L324.49,30.03 L324.80,30.04 L325.13,30.05 L325.49,30.06 L325.87,30.07 L326.27,30.08 L326.68,30.09 L327.12,30.11 L327.58,30.12 L328.06,30.13 L328.55,30.14 L329.07,30.16 L329.60,30.17 L330.14,30.19 L330.71,30.20 L331.29,30.22 L331.88,30.23 L332.49,30.25 L333.12,30.27 L333.76,30.28 L334.42,30.30 L335.09,30.32 L335.78,30.34 L336.48,30.36 L337.20,30.37 L337.93,30.39 L338.67,30.41 L339.43,30.43 L340.20,30.45 L340.98,30.48 L341.78,30.50 L342.59,30.52 L343.41,30.54 L344.25,30.56 L345.09,30.59 L345.95,30.61 L346.83,30.63 L347.71,30.66 L348.61,30.68 L349.52,30.70 L350.44,30.73 L351.37,30.75 L352.32,30.78 L353.28,30.80 L354.24,30.83 L355.22,30.86 L356.21,30.88 L357.22,30.91 L358.23,30.94 L359.25,30.96 L360.29,30.99 L361.34,31.02 L362.39,31.05 L363.46,31.08 L364.54,31.10 L365.63,31.13 L366.73,31.16 L367.84,31.19 L368.96,31.22 L370.10,31.25 L371.24,31.28 L372.39,31.31 L373.55,31.34 L374.73,31.38 L375.91,31.41 L377.10,31.44 L378.30,31.47 L379.52,31.50 L380.74,31.53 L381.97,31.57 L383.21,31.60 L384.47,31.63 L385.73,31.67 L387.00,31.70 L388.28,31.74 L389.57,31.77 L390.87,31.80 L392.18,31.84 L393.50,31.87 L394.82,31.91 L396.16,31.94 L397.51,31.98 L398.86,32.02 L400.23,32.05 L401.60,32.09 L402.99,32.12 L404.38,32.16 L405.78,32.20 L407.19,32.24 L408.61,32.27 L410.04,32.31 L411.47,32.35 L412.92,32.39 L414.37,32.43 L415.84,32.46 L417.31,32.50 L418.79,32.54 L420.28,32.58 L421.78,32.62 L423.28,32.66 L424.80,32.70 L426.32,32.74 L427.85,32.78 L429.39,32.82 L430.94,32.86 L432.50,32.90 L434.06,32.95 L435.64,32.99 L437.22,33.03 L438.81,33.07 L440.41,33.11 L442.02,33.16 L443.63,33.20 L445.25,33.24 L446.89,33.28 L448.53,33.33 L450.17,33.37 L451.83,33.41 L453.49,33.46 L455.16,33.50 L456.84,33.55 L458.53,33.59 L460.23,33.63 L461.93,33.68 L463.64,33.72 L465.36,33.77 L467.09,33.81 L468.82,33.86 L470.57,33.91 L472.32,33.95 L474.08,34.00 L475.84,34.04 L477.61,34.09 L479.40,34.14 L481.18,34.18 L482.98,34.23 L484.79,34.28 L486.60,34.33 L488.42,34.37 L490.24,34.42 L492.08,34.47 L493.92,34.52 L495.77,34.56 L497.63,34.61 L499.49,34.66 L501.36,34.71 L503.24,34.76 L505.13,34.81 L507.02,34.86 L508.92,34.91 L510.83,34.96 L512.75,35.01 L514.67,35.06 L516.60,35.11" fill="none" stroke="#2a2a2a" stroke-width="1.1" stroke-linejoin="round"/>
<circle cx="58.50" cy="85.60" r="3.10" fill="#000" stroke="#000" stroke-width="0.95"/>
<circle cx="72.80" cy="147.90" r="3.10" fill="#000" stroke="#000" stroke-width="0.95"/>
<circle cx="92.50" cy="182.60" r="3.10" fill="#000" stroke="#000" stroke-width="0.95"/>
<circle cx="117.00" cy="196.60" r="3.10" fill="#000" stroke="#000" stroke-width="0.95"/>
<circle cx="137.00" cy="200.00" r="3.10" fill="#000" stroke="#000" stroke-width="0.95"/>
<circle cx="167.30" cy="199.80" r="3.10" fill="#000" stroke="#000" stroke-width="0.95"/>
<circle cx="189.20" cy="199.60" r="3.10" fill="#000" stroke="#000" stroke-width="0.95"/>
<circle cx="81.30" cy="162.00" r="3.10" fill="none" stroke="#000" stroke-width="0.95"/>
<circle cx="172.50" cy="201.25" r="3.10" fill="none" stroke="#000" stroke-width="0.95"/>
<path d="M60.90,105.90 L64.47,112.10 L57.34,112.10Z" fill="#000" stroke="#000" stroke-width="0.95" stroke-linejoin="miter"/>
<path d="M85.00,174.40 L88.56,180.60 L81.44,180.60Z" fill="#000" stroke="#000" stroke-width="0.95" stroke-linejoin="miter"/>
<path d="M99.40,188.20 L102.97,194.40 L95.84,194.40Z" fill="#000" stroke="#000" stroke-width="0.95" stroke-linejoin="miter"/>
<path d="M125.60,196.90 L129.16,203.10 L122.03,203.10Z" fill="#000" stroke="#000" stroke-width="0.95" stroke-linejoin="miter"/>
<path d="M148.40,198.40 L151.97,204.60 L144.84,204.60Z" fill="#000" stroke="#000" stroke-width="0.95" stroke-linejoin="miter"/>
<path d="M167.50,195.30 L171.06,201.50 L163.94,201.50Z" fill="#000" stroke="#000" stroke-width="0.95" stroke-linejoin="miter"/>
<path d="M61.25,69.80 L64.81,76.00 L57.69,76.00Z" fill="none" stroke="#000" stroke-width="0.95" stroke-linejoin="miter"/>
<path d="M75.30,120.50 L78.86,126.70 L71.73,126.70Z" fill="none" stroke="#000" stroke-width="0.95" stroke-linejoin="miter"/>
<path d="M95.00,157.60 L98.56,163.80 L91.44,163.80Z" fill="none" stroke="#000" stroke-width="0.95" stroke-linejoin="miter"/>
<path d="M123.75,180.30 L127.31,186.50 L120.19,186.50Z" fill="none" stroke="#000" stroke-width="0.95" stroke-linejoin="miter"/>
<path d="M148.00,186.40 L151.56,192.60 L144.44,192.60Z" fill="none" stroke="#000" stroke-width="0.95" stroke-linejoin="miter"/>
<path d="M172.00,189.20 L175.56,195.40 L168.44,195.40Z" fill="none" stroke="#000" stroke-width="0.95" stroke-linejoin="miter"/>
<path d="M196.40,191.60 L199.97,197.80 L192.84,197.80Z" fill="none" stroke="#000" stroke-width="0.95" stroke-linejoin="miter"/>
<rect x="57.95" y="102.66" width="5.89" height="5.89" fill="#000" stroke="#000" stroke-width="0.95"/>
<rect x="82.06" y="169.56" width="5.89" height="5.89" fill="#000" stroke="#000" stroke-width="0.95"/>
<rect x="96.46" y="183.56" width="5.89" height="5.89" fill="#000" stroke="#000" stroke-width="0.95"/>
<rect x="115.56" y="193.66" width="5.89" height="5.89" fill="#000" stroke="#000" stroke-width="0.95"/>
<rect x="139.06" y="197.06" width="5.89" height="5.89" fill="#000" stroke="#000" stroke-width="0.95"/>
<rect x="159.66" y="198.06" width="5.89" height="5.89" fill="#000" stroke="#000" stroke-width="0.95"/>
<rect x="182.86" y="197.46" width="5.89" height="5.89" fill="#000" stroke="#000" stroke-width="0.95"/>
<rect x="77.06" y="138.86" width="5.89" height="5.89" fill="none" stroke="#000" stroke-width="0.95"/>
<rect x="96.26" y="169.56" width="5.89" height="5.89" fill="none" stroke="#000" stroke-width="0.95"/>
<rect x="227.06" y="197.06" width="5.89" height="5.89" fill="none" stroke="#000" stroke-width="0.95"/>
<path d="M55.80,92.53 L59.52,96.25 L55.80,99.97 L52.08,96.25Z" fill="#000" stroke="#000" stroke-width="0.95"/>
<path d="M70.30,132.78 L74.02,136.50 L70.30,140.22 L66.58,136.50Z" fill="#000" stroke="#000" stroke-width="0.95"/>
<path d="M89.40,161.88 L93.12,165.60 L89.40,169.32 L85.68,165.60Z" fill="#000" stroke="#000" stroke-width="0.95"/>
<path d="M109.40,178.78 L113.12,182.50 L109.40,186.22 L105.68,182.50Z" fill="#000" stroke="#000" stroke-width="0.95"/>
<path d="M128.50,187.28 L132.22,191.00 L128.50,194.72 L124.78,191.00Z" fill="#000" stroke="#000" stroke-width="0.95"/>
<path d="M148.00,191.78 L151.72,195.50 L148.00,199.22 L144.28,195.50Z" fill="#000" stroke="#000" stroke-width="0.95"/>
<path d="M209.00,196.28 L212.72,200.00 L209.00,203.72 L205.28,200.00Z" fill="#000" stroke="#000" stroke-width="0.95"/>
<path d="M60.40,109.58 L64.12,113.30 L60.40,117.02 L56.68,113.30Z" fill="none" stroke="#000" stroke-width="0.95"/>
<path d="M74.70,164.48 L78.42,168.20 L74.70,171.92 L70.98,168.20Z" fill="none" stroke="#000" stroke-width="0.95"/>
<path d="M94.40,187.28 L98.12,191.00 L94.40,194.72 L90.68,191.00Z" fill="none" stroke="#000" stroke-width="0.95"/>
<path d="M157.00,196.88 L160.72,200.60 L157.00,204.32 L153.28,200.60Z" fill="none" stroke="#000" stroke-width="0.95"/>
<path d="M196.40,197.68 L200.12,201.40 L196.40,205.12 L192.68,201.40Z" fill="none" stroke="#000" stroke-width="0.95"/>
<circle cx="335.50" cy="181.00" r="3.10" fill="#000" stroke="#000" stroke-width="0.95"/>
<circle cx="387.50" cy="200.60" r="3.10" fill="#000" stroke="#000" stroke-width="0.95"/>
<circle cx="329.40" cy="112.80" r="3.10" fill="none" stroke="#000" stroke-width="0.95"/>
<circle cx="331.60" cy="141.00" r="3.10" fill="none" stroke="#000" stroke-width="0.95"/>
<circle cx="335.90" cy="159.90" r="3.10" fill="none" stroke="#000" stroke-width="0.95"/>
<circle cx="348.75" cy="188.20" r="3.10" fill="none" stroke="#000" stroke-width="0.95"/>
<circle cx="400.00" cy="200.60" r="3.10" fill="none" stroke="#000" stroke-width="0.95"/>
<path d="M331.10,77.50 L334.67,83.70 L327.54,83.70Z" fill="#000" stroke="#000" stroke-width="0.95" stroke-linejoin="miter"/>
<path d="M348.10,141.90 L351.67,148.10 L344.54,148.10Z" fill="#000" stroke="#000" stroke-width="0.95" stroke-linejoin="miter"/>
<path d="M374.40,178.80 L377.96,185.00 L370.83,185.00Z" fill="#000" stroke="#000" stroke-width="0.95" stroke-linejoin="miter"/>
<path d="M451.90,194.40 L455.46,200.60 L448.33,200.60Z" fill="#000" stroke="#000" stroke-width="0.95" stroke-linejoin="miter"/>
<path d="M329.00,150.20 L332.56,156.40 L325.44,156.40Z" fill="none" stroke="#000" stroke-width="0.95" stroke-linejoin="miter"/>
<path d="M331.50,164.40 L335.06,170.60 L327.94,170.60Z" fill="none" stroke="#000" stroke-width="0.95" stroke-linejoin="miter"/>
<path d="M400.00,197.50 L403.56,203.70 L396.44,203.70Z" fill="none" stroke="#000" stroke-width="0.95" stroke-linejoin="miter"/>
<rect x="326.25" y="158.06" width="5.89" height="5.89" fill="#000" stroke="#000" stroke-width="0.95"/>
<rect x="328.56" y="169.56" width="5.89" height="5.89" fill="#000" stroke="#000" stroke-width="0.95"/>
<rect x="332.56" y="181.06" width="5.89" height="5.89" fill="#000" stroke="#000" stroke-width="0.95"/>
<rect x="345.36" y="193.36" width="5.89" height="5.89" fill="#000" stroke="#000" stroke-width="0.95"/>
<rect x="371.45" y="197.36" width="5.89" height="5.89" fill="#000" stroke="#000" stroke-width="0.95"/>
<rect x="328.31" y="35.16" width="5.89" height="5.89" fill="none" stroke="#000" stroke-width="0.95"/>
<rect x="345.66" y="40.66" width="5.89" height="5.89" fill="none" stroke="#000" stroke-width="0.95"/>
<rect x="371.56" y="61.46" width="5.89" height="5.89" fill="none" stroke="#000" stroke-width="0.95"/>
<rect x="423.16" y="91.76" width="5.89" height="5.89" fill="none" stroke="#000" stroke-width="0.95"/>
<rect x="474.56" y="105.96" width="5.89" height="5.89" fill="none" stroke="#000" stroke-width="0.95"/>
<path d="M329.40,25.68 L333.12,29.40 L329.40,33.12 L325.68,29.40Z" fill="#000" stroke="#000" stroke-width="0.95"/>
<path d="M336.00,23.78 L339.72,27.50 L336.00,31.22 L332.28,27.50Z" fill="#000" stroke="#000" stroke-width="0.95"/>
<path d="M374.00,33.78 L377.72,37.50 L374.00,41.22 L370.28,37.50Z" fill="#000" stroke="#000" stroke-width="0.95"/>
<path d="M426.00,43.18 L429.72,46.90 L426.00,50.62 L422.28,46.90Z" fill="#000" stroke="#000" stroke-width="0.95"/>
<path d="M477.50,33.18 L481.22,36.90 L477.50,40.62 L473.78,36.90Z" fill="#000" stroke="#000" stroke-width="0.95"/>
<path d="M348.10,31.28 L351.82,35.00 L348.10,38.72 L344.38,35.00Z" fill="none" stroke="#000" stroke-width="0.95"/>
<path d="M374.00,28.78 L377.72,32.50 L374.00,36.22 L370.28,32.50Z" fill="none" stroke="#000" stroke-width="0.95"/>
<path d="M451.60,29.38 L455.32,33.10 L451.60,36.82 L447.88,33.10Z" fill="none" stroke="#000" stroke-width="0.95"/>
<path d="M503.40,30.28 L507.12,34.00 L503.40,37.72 L499.68,34.00Z" fill="none" stroke="#000" stroke-width="0.95"/>
<path d="M51.45,22.23 V212.70 H244.80" fill="none" stroke="#000" stroke-width="1.45"/>
<line x1="51.45" y1="203.63" x2="53.45" y2="203.63" stroke="#000" stroke-width="0.9"/>
<line x1="51.45" y1="194.56" x2="53.45" y2="194.56" stroke="#000" stroke-width="0.9"/>
<line x1="51.45" y1="185.49" x2="53.45" y2="185.49" stroke="#000" stroke-width="0.9"/>
<line x1="51.45" y1="176.42" x2="55.05" y2="176.42" stroke="#000" stroke-width="0.9"/>
<line x1="51.45" y1="167.35" x2="53.45" y2="167.35" stroke="#000" stroke-width="0.9"/>
<line x1="51.45" y1="158.28" x2="53.45" y2="158.28" stroke="#000" stroke-width="0.9"/>
<line x1="51.45" y1="149.21" x2="53.45" y2="149.21" stroke="#000" stroke-width="0.9"/>
<line x1="51.45" y1="140.14" x2="55.05" y2="140.14" stroke="#000" stroke-width="0.9"/>
<line x1="51.45" y1="131.07" x2="53.45" y2="131.07" stroke="#000" stroke-width="0.9"/>
<line x1="51.45" y1="122.00" x2="53.45" y2="122.00" stroke="#000" stroke-width="0.9"/>
<line x1="51.45" y1="112.93" x2="53.45" y2="112.93" stroke="#000" stroke-width="0.9"/>
<line x1="51.45" y1="103.86" x2="55.05" y2="103.86" stroke="#000" stroke-width="0.9"/>
<line x1="51.45" y1="94.79" x2="53.45" y2="94.79" stroke="#000" stroke-width="0.9"/>
<line x1="51.45" y1="85.72" x2="53.45" y2="85.72" stroke="#000" stroke-width="0.9"/>
<line x1="51.45" y1="76.65" x2="53.45" y2="76.65" stroke="#000" stroke-width="0.9"/>
<line x1="51.45" y1="67.58" x2="55.05" y2="67.58" stroke="#000" stroke-width="0.9"/>
<line x1="51.45" y1="58.51" x2="53.45" y2="58.51" stroke="#000" stroke-width="0.9"/>
<line x1="51.45" y1="49.44" x2="53.45" y2="49.44" stroke="#000" stroke-width="0.9"/>
<line x1="51.45" y1="40.37" x2="53.45" y2="40.37" stroke="#000" stroke-width="0.9"/>
<line x1="51.45" y1="31.30" x2="55.05" y2="31.30" stroke="#000" stroke-width="0.9"/>
<line x1="51.45" y1="22.23" x2="53.45" y2="22.23" stroke="#000" stroke-width="0.9"/>
<line x1="56.28" y1="212.70" x2="56.28" y2="210.70" stroke="#000" stroke-width="0.9"/>
<line x1="61.12" y1="212.70" x2="61.12" y2="210.70" stroke="#000" stroke-width="0.9"/>
<line x1="65.95" y1="212.70" x2="65.95" y2="210.70" stroke="#000" stroke-width="0.9"/>
<line x1="70.78" y1="212.70" x2="70.78" y2="210.70" stroke="#000" stroke-width="0.9"/>
<line x1="75.62" y1="212.70" x2="75.62" y2="209.10" stroke="#000" stroke-width="0.9"/>
<line x1="80.45" y1="212.70" x2="80.45" y2="210.70" stroke="#000" stroke-width="0.9"/>
<line x1="85.29" y1="212.70" x2="85.29" y2="210.70" stroke="#000" stroke-width="0.9"/>
<line x1="90.12" y1="212.70" x2="90.12" y2="210.70" stroke="#000" stroke-width="0.9"/>
<line x1="94.95" y1="212.70" x2="94.95" y2="210.70" stroke="#000" stroke-width="0.9"/>
<line x1="99.79" y1="212.70" x2="99.79" y2="209.10" stroke="#000" stroke-width="0.9"/>
<line x1="104.62" y1="212.70" x2="104.62" y2="210.70" stroke="#000" stroke-width="0.9"/>
<line x1="109.46" y1="212.70" x2="109.46" y2="210.70" stroke="#000" stroke-width="0.9"/>
<line x1="114.29" y1="212.70" x2="114.29" y2="210.70" stroke="#000" stroke-width="0.9"/>
<line x1="119.12" y1="212.70" x2="119.12" y2="210.70" stroke="#000" stroke-width="0.9"/>
<line x1="123.96" y1="212.70" x2="123.96" y2="209.10" stroke="#000" stroke-width="0.9"/>
<line x1="128.79" y1="212.70" x2="128.79" y2="210.70" stroke="#000" stroke-width="0.9"/>
<line x1="133.62" y1="212.70" x2="133.62" y2="210.70" stroke="#000" stroke-width="0.9"/>
<line x1="138.46" y1="212.70" x2="138.46" y2="210.70" stroke="#000" stroke-width="0.9"/>
<line x1="143.29" y1="212.70" x2="143.29" y2="210.70" stroke="#000" stroke-width="0.9"/>
<line x1="148.12" y1="212.70" x2="148.12" y2="209.10" stroke="#000" stroke-width="0.9"/>
<line x1="152.96" y1="212.70" x2="152.96" y2="210.70" stroke="#000" stroke-width="0.9"/>
<line x1="157.79" y1="212.70" x2="157.79" y2="210.70" stroke="#000" stroke-width="0.9"/>
<line x1="162.63" y1="212.70" x2="162.63" y2="210.70" stroke="#000" stroke-width="0.9"/>
<line x1="167.46" y1="212.70" x2="167.46" y2="210.70" stroke="#000" stroke-width="0.9"/>
<line x1="172.29" y1="212.70" x2="172.29" y2="209.10" stroke="#000" stroke-width="0.9"/>
<line x1="177.13" y1="212.70" x2="177.13" y2="210.70" stroke="#000" stroke-width="0.9"/>
<line x1="181.96" y1="212.70" x2="181.96" y2="210.70" stroke="#000" stroke-width="0.9"/>
<line x1="186.80" y1="212.70" x2="186.80" y2="210.70" stroke="#000" stroke-width="0.9"/>
<line x1="191.63" y1="212.70" x2="191.63" y2="210.70" stroke="#000" stroke-width="0.9"/>
<line x1="196.46" y1="212.70" x2="196.46" y2="209.10" stroke="#000" stroke-width="0.9"/>
<line x1="201.30" y1="212.70" x2="201.30" y2="210.70" stroke="#000" stroke-width="0.9"/>
<line x1="206.13" y1="212.70" x2="206.13" y2="210.70" stroke="#000" stroke-width="0.9"/>
<line x1="210.96" y1="212.70" x2="210.96" y2="210.70" stroke="#000" stroke-width="0.9"/>
<line x1="215.80" y1="212.70" x2="215.80" y2="210.70" stroke="#000" stroke-width="0.9"/>
<line x1="220.63" y1="212.70" x2="220.63" y2="209.10" stroke="#000" stroke-width="0.9"/>
<line x1="225.47" y1="212.70" x2="225.47" y2="210.70" stroke="#000" stroke-width="0.9"/>
<line x1="230.30" y1="212.70" x2="230.30" y2="210.70" stroke="#000" stroke-width="0.9"/>
<line x1="235.13" y1="212.70" x2="235.13" y2="210.70" stroke="#000" stroke-width="0.9"/>
<line x1="239.97" y1="212.70" x2="239.97" y2="210.70" stroke="#000" stroke-width="0.9"/>
<line x1="244.80" y1="212.70" x2="244.80" y2="209.10" stroke="#000" stroke-width="0.9"/>
<text x="46.80" y="214.70" text-anchor="end" style="font-family:'Liberation Sans',sans-serif;font-weight:bold;font-size:9.5px">0</text>
<text x="46.80" y="178.42" text-anchor="end" style="font-family:'Liberation Sans',sans-serif;font-weight:bold;font-size:9.5px">20</text>
<text x="46.80" y="142.14" text-anchor="end" style="font-family:'Liberation Sans',sans-serif;font-weight:bold;font-size:9.5px">40</text>
<text x="46.80" y="105.86" text-anchor="end" style="font-family:'Liberation Sans',sans-serif;font-weight:bold;font-size:9.5px">60</text>
<text x="46.80" y="69.58" text-anchor="end" style="font-family:'Liberation Sans',sans-serif;font-weight:bold;font-size:9.5px">80</text>
<text x="46.80" y="33.30" text-anchor="end" style="font-family:'Liberation Sans',sans-serif;font-weight:bold;font-size:9.5px">100</text>
<text x="51.45" y="223.30" text-anchor="middle" style="font-family:'Liberation Sans',sans-serif;font-weight:bold;font-size:9.5px">0</text>
<text x="75.62" y="223.30" text-anchor="middle" style="font-family:'Liberation Sans',sans-serif;font-weight:bold;font-size:9.5px">5</text>
<text x="99.79" y="223.30" text-anchor="middle" style="font-family:'Liberation Sans',sans-serif;font-weight:bold;font-size:9.5px">10</text>
<text x="123.96" y="223.30" text-anchor="middle" style="font-family:'Liberation Sans',sans-serif;font-weight:bold;font-size:9.5px">15</text>
<text x="148.12" y="223.30" text-anchor="middle" style="font-family:'Liberation Sans',sans-serif;font-weight:bold;font-size:9.5px">20</text>
<text x="172.29" y="223.30" text-anchor="middle" style="font-family:'Liberation Sans',sans-serif;font-weight:bold;font-size:9.5px">25</text>
<text x="196.46" y="223.30" text-anchor="middle" style="font-family:'Liberation Sans',sans-serif;font-weight:bold;font-size:9.5px">30</text>
<text x="220.63" y="223.30" text-anchor="middle" style="font-family:'Liberation Sans',sans-serif;font-weight:bold;font-size:9.5px">35</text>
<text x="244.80" y="223.30" text-anchor="middle" style="font-family:'Liberation Sans',sans-serif;font-weight:bold;font-size:9.5px">40</text>
<path d="M323.20,20.91 V211.80 H516.60" fill="none" stroke="#000" stroke-width="1.45"/>
<line x1="323.20" y1="202.71" x2="325.20" y2="202.71" stroke="#000" stroke-width="0.9"/>
<line x1="323.20" y1="193.62" x2="325.20" y2="193.62" stroke="#000" stroke-width="0.9"/>
<line x1="323.20" y1="184.53" x2="325.20" y2="184.53" stroke="#000" stroke-width="0.9"/>
<line x1="323.20" y1="175.44" x2="326.80" y2="175.44" stroke="#000" stroke-width="0.9"/>
<line x1="323.20" y1="166.35" x2="325.20" y2="166.35" stroke="#000" stroke-width="0.9"/>
<line x1="323.20" y1="157.26" x2="325.20" y2="157.26" stroke="#000" stroke-width="0.9"/>
<line x1="323.20" y1="148.17" x2="325.20" y2="148.17" stroke="#000" stroke-width="0.9"/>
<line x1="323.20" y1="139.08" x2="326.80" y2="139.08" stroke="#000" stroke-width="0.9"/>
<line x1="323.20" y1="129.99" x2="325.20" y2="129.99" stroke="#000" stroke-width="0.9"/>
<line x1="323.20" y1="120.90" x2="325.20" y2="120.90" stroke="#000" stroke-width="0.9"/>
<line x1="323.20" y1="111.81" x2="325.20" y2="111.81" stroke="#000" stroke-width="0.9"/>
<line x1="323.20" y1="102.72" x2="326.80" y2="102.72" stroke="#000" stroke-width="0.9"/>
<line x1="323.20" y1="93.63" x2="325.20" y2="93.63" stroke="#000" stroke-width="0.9"/>
<line x1="323.20" y1="84.54" x2="325.20" y2="84.54" stroke="#000" stroke-width="0.9"/>
<line x1="323.20" y1="75.45" x2="325.20" y2="75.45" stroke="#000" stroke-width="0.9"/>
<line x1="323.20" y1="66.36" x2="326.80" y2="66.36" stroke="#000" stroke-width="0.9"/>
<line x1="323.20" y1="57.27" x2="325.20" y2="57.27" stroke="#000" stroke-width="0.9"/>
<line x1="323.20" y1="48.18" x2="325.20" y2="48.18" stroke="#000" stroke-width="0.9"/>
<line x1="323.20" y1="39.09" x2="325.20" y2="39.09" stroke="#000" stroke-width="0.9"/>
<line x1="323.20" y1="30.00" x2="326.80" y2="30.00" stroke="#000" stroke-width="0.9"/>
<line x1="323.20" y1="20.91" x2="325.20" y2="20.91" stroke="#000" stroke-width="0.9"/>
<line x1="328.36" y1="211.80" x2="328.36" y2="209.80" stroke="#000" stroke-width="0.9"/>
<line x1="333.51" y1="211.80" x2="333.51" y2="209.80" stroke="#000" stroke-width="0.9"/>
<line x1="338.67" y1="211.80" x2="338.67" y2="209.80" stroke="#000" stroke-width="0.9"/>
<line x1="343.83" y1="211.80" x2="343.83" y2="209.80" stroke="#000" stroke-width="0.9"/>
<line x1="348.99" y1="211.80" x2="348.99" y2="208.20" stroke="#000" stroke-width="0.9"/>
<line x1="354.14" y1="211.80" x2="354.14" y2="209.80" stroke="#000" stroke-width="0.9"/>
<line x1="359.30" y1="211.80" x2="359.30" y2="209.80" stroke="#000" stroke-width="0.9"/>
<line x1="364.46" y1="211.80" x2="364.46" y2="209.80" stroke="#000" stroke-width="0.9"/>
<line x1="369.62" y1="211.80" x2="369.62" y2="209.80" stroke="#000" stroke-width="0.9"/>
<line x1="374.77" y1="211.80" x2="374.77" y2="208.20" stroke="#000" stroke-width="0.9"/>
<line x1="379.93" y1="211.80" x2="379.93" y2="209.80" stroke="#000" stroke-width="0.9"/>
<line x1="385.09" y1="211.80" x2="385.09" y2="209.80" stroke="#000" stroke-width="0.9"/>
<line x1="390.25" y1="211.80" x2="390.25" y2="209.80" stroke="#000" stroke-width="0.9"/>
<line x1="395.40" y1="211.80" x2="395.40" y2="209.80" stroke="#000" stroke-width="0.9"/>
<line x1="400.56" y1="211.80" x2="400.56" y2="208.20" stroke="#000" stroke-width="0.9"/>
<line x1="405.72" y1="211.80" x2="405.72" y2="209.80" stroke="#000" stroke-width="0.9"/>
<line x1="410.87" y1="211.80" x2="410.87" y2="209.80" stroke="#000" stroke-width="0.9"/>
<line x1="416.03" y1="211.80" x2="416.03" y2="209.80" stroke="#000" stroke-width="0.9"/>
<line x1="421.19" y1="211.80" x2="421.19" y2="209.80" stroke="#000" stroke-width="0.9"/>
<line x1="426.35" y1="211.80" x2="426.35" y2="208.20" stroke="#000" stroke-width="0.9"/>
<line x1="431.50" y1="211.80" x2="431.50" y2="209.80" stroke="#000" stroke-width="0.9"/>
<line x1="436.66" y1="211.80" x2="436.66" y2="209.80" stroke="#000" stroke-width="0.9"/>
<line x1="441.82" y1="211.80" x2="441.82" y2="209.80" stroke="#000" stroke-width="0.9"/>
<line x1="446.98" y1="211.80" x2="446.98" y2="209.80" stroke="#000" stroke-width="0.9"/>
<line x1="452.13" y1="211.80" x2="452.13" y2="208.20" stroke="#000" stroke-width="0.9"/>
<line x1="457.29" y1="211.80" x2="457.29" y2="209.80" stroke="#000" stroke-width="0.9"/>
<line x1="462.45" y1="211.80" x2="462.45" y2="209.80" stroke="#000" stroke-width="0.9"/>
<line x1="467.61" y1="211.80" x2="467.61" y2="209.80" stroke="#000" stroke-width="0.9"/>
<line x1="472.76" y1="211.80" x2="472.76" y2="209.80" stroke="#000" stroke-width="0.9"/>
<line x1="477.92" y1="211.80" x2="477.92" y2="208.20" stroke="#000" stroke-width="0.9"/>
<line x1="483.08" y1="211.80" x2="483.08" y2="209.80" stroke="#000" stroke-width="0.9"/>
<line x1="488.23" y1="211.80" x2="488.23" y2="209.80" stroke="#000" stroke-width="0.9"/>
<line x1="493.39" y1="211.80" x2="493.39" y2="209.80" stroke="#000" stroke-width="0.9"/>
<line x1="498.55" y1="211.80" x2="498.55" y2="209.80" stroke="#000" stroke-width="0.9"/>
<line x1="503.71" y1="211.80" x2="503.71" y2="208.20" stroke="#000" stroke-width="0.9"/>
<line x1="508.86" y1="211.80" x2="508.86" y2="209.80" stroke="#000" stroke-width="0.9"/>
<line x1="514.02" y1="211.80" x2="514.02" y2="209.80" stroke="#000" stroke-width="0.9"/>
<text x="318.30" y="213.80" text-anchor="end" style="font-family:'Liberation Sans',sans-serif;font-weight:bold;font-size:9.5px">0</text>
<text x="318.30" y="177.44" text-anchor="end" style="font-family:'Liberation Sans',sans-serif;font-weight:bold;font-size:9.5px">20</text>
<text x="318.30" y="141.08" text-anchor="end" style="font-family:'Liberation Sans',sans-serif;font-weight:bold;font-size:9.5px">40</text>
<text x="318.30" y="104.72" text-anchor="end" style="font-family:'Liberation Sans',sans-serif;font-weight:bold;font-size:9.5px">60</text>
<text x="318.30" y="68.36" text-anchor="end" style="font-family:'Liberation Sans',sans-serif;font-weight:bold;font-size:9.5px">80</text>
<text x="318.30" y="32.00" text-anchor="end" style="font-family:'Liberation Sans',sans-serif;font-weight:bold;font-size:9.5px">100</text>
<text x="323.20" y="222.40" text-anchor="middle" style="font-family:'Liberation Sans',sans-serif;font-weight:bold;font-size:9.5px">0</text>
<text x="348.99" y="222.40" text-anchor="middle" style="font-family:'Liberation Sans',sans-serif;font-weight:bold;font-size:9.5px">1</text>
<text x="374.77" y="222.40" text-anchor="middle" style="font-family:'Liberation Sans',sans-serif;font-weight:bold;font-size:9.5px">2</text>
<text x="400.56" y="222.40" text-anchor="middle" style="font-family:'Liberation Sans',sans-serif;font-weight:bold;font-size:9.5px">3</text>
<text x="426.35" y="222.40" text-anchor="middle" style="font-family:'Liberation Sans',sans-serif;font-weight:bold;font-size:9.5px">4</text>
<text x="452.13" y="222.40" text-anchor="middle" style="font-family:'Liberation Sans',sans-serif;font-weight:bold;font-size:9.5px">5</text>
<text x="477.92" y="222.40" text-anchor="middle" style="font-family:'Liberation Sans',sans-serif;font-weight:bold;font-size:9.5px">6</text>
<text x="503.71" y="222.40" text-anchor="middle" style="font-family:'Liberation Sans',sans-serif;font-weight:bold;font-size:9.5px">7</text>
<rect x="142.30" y="114.40" width="65.00" height="61.30" fill="#000"/>
<rect x="141.30" y="113.40" width="65.00" height="61.30" fill="#fff" stroke="#000" stroke-width="0.8"/>
<line x1="144.90" y1="119.80" x2="163.60" y2="119.80" stroke="#000" stroke-width="0.7"/>
<circle cx="154.60" cy="119.80" r="3.00" fill="#000" stroke="#000" stroke-width="0.8"/>
<text x="165.50" y="122.00" style="font-family:'Liberation Sans',sans-serif;font-size:6.45px">Wild-type</text>
<line x1="144.90" y1="126.73" x2="163.60" y2="126.73" stroke="#000" stroke-width="0.7"/>
<circle cx="154.60" cy="126.73" r="3.00" fill="none" stroke="#000" stroke-width="0.8"/>
<text x="165.50" y="128.93" style="font-family:'Liberation Sans',sans-serif;font-size:6.45px">M71A</text>
<line x1="144.90" y1="133.66" x2="163.60" y2="133.66" stroke="#000" stroke-width="0.7"/>
<path d="M154.60,130.66 L158.05,136.66 L151.15,136.66Z" fill="#000" stroke="#000" stroke-width="0.8" stroke-linejoin="miter"/>
<text x="165.50" y="135.86" style="font-family:'Liberation Sans',sans-serif;font-size:6.45px">D74A</text>
<line x1="144.90" y1="140.59" x2="163.60" y2="140.59" stroke="#000" stroke-width="0.7"/>
<path d="M154.60,137.59 L158.05,143.59 L151.15,143.59Z" fill="none" stroke="#000" stroke-width="0.8" stroke-linejoin="miter"/>
<text x="165.50" y="142.79" style="font-family:'Liberation Sans',sans-serif;font-size:6.45px">D238A</text>
<line x1="144.90" y1="147.52" x2="163.60" y2="147.52" stroke="#000" stroke-width="0.7"/>
<rect x="151.75" y="144.67" width="5.70" height="5.70" fill="#000" stroke="#000" stroke-width="0.8"/>
<text x="165.50" y="149.72" style="font-family:'Liberation Sans',sans-serif;font-size:6.45px">K239A</text>
<line x1="144.90" y1="154.45" x2="163.60" y2="154.45" stroke="#000" stroke-width="0.7"/>
<rect x="151.75" y="151.60" width="5.70" height="5.70" fill="none" stroke="#000" stroke-width="0.8"/>
<text x="165.50" y="156.65" style="font-family:'Liberation Sans',sans-serif;font-size:6.45px">Y240A</text>
<line x1="144.90" y1="161.38" x2="163.60" y2="161.38" stroke="#000" stroke-width="0.7"/>
<path d="M154.60,157.78 L158.20,161.38 L154.60,164.98 L151.00,161.38Z" fill="#000" stroke="#000" stroke-width="0.8"/>
<text x="165.50" y="163.58" style="font-family:'Liberation Sans',sans-serif;font-size:6.45px">D293A</text>
<line x1="144.90" y1="168.31" x2="163.60" y2="168.31" stroke="#000" stroke-width="0.7"/>
<path d="M154.60,164.71 L158.20,168.31 L154.60,171.91 L151.00,168.31Z" fill="none" stroke="#000" stroke-width="0.8"/>
<text x="165.50" y="170.51" style="font-family:'Liberation Sans',sans-serif;font-size:6.45px">D74A/D293A</text>
<rect x="419.00" y="121.60" width="65.00" height="61.30" fill="#000"/>
<rect x="418.00" y="120.60" width="65.00" height="61.30" fill="#fff" stroke="#000" stroke-width="0.8"/>
<line x1="421.60" y1="127.00" x2="440.30" y2="127.00" stroke="#000" stroke-width="0.7"/>
<circle cx="431.30" cy="127.00" r="3.00" fill="#000" stroke="#000" stroke-width="0.8"/>
<text x="442.20" y="129.20" style="font-family:'Liberation Sans',sans-serif;font-size:6.45px">Wild-type</text>
<line x1="421.60" y1="133.93" x2="440.30" y2="133.93" stroke="#000" stroke-width="0.7"/>
<circle cx="431.30" cy="133.93" r="3.00" fill="none" stroke="#000" stroke-width="0.8"/>
<text x="442.20" y="136.13" style="font-family:'Liberation Sans',sans-serif;font-size:6.45px">M71A</text>
<line x1="421.60" y1="140.86" x2="440.30" y2="140.86" stroke="#000" stroke-width="0.7"/>
<path d="M431.30,137.86 L434.75,143.86 L427.85,143.86Z" fill="#000" stroke="#000" stroke-width="0.8" stroke-linejoin="miter"/>
<text x="442.20" y="143.06" style="font-family:'Liberation Sans',sans-serif;font-size:6.45px">D74A</text>
<line x1="421.60" y1="147.79" x2="440.30" y2="147.79" stroke="#000" stroke-width="0.7"/>
<path d="M431.30,144.79 L434.75,150.79 L427.85,150.79Z" fill="none" stroke="#000" stroke-width="0.8" stroke-linejoin="miter"/>
<text x="442.20" y="149.99" style="font-family:'Liberation Sans',sans-serif;font-size:6.45px">D238A</text>
<line x1="421.60" y1="154.72" x2="440.30" y2="154.72" stroke="#000" stroke-width="0.7"/>
<rect x="428.45" y="151.87" width="5.70" height="5.70" fill="#000" stroke="#000" stroke-width="0.8"/>
<text x="442.20" y="156.92" style="font-family:'Liberation Sans',sans-serif;font-size:6.45px">K239A</text>
<line x1="421.60" y1="161.65" x2="440.30" y2="161.65" stroke="#000" stroke-width="0.7"/>
<rect x="428.45" y="158.80" width="5.70" height="5.70" fill="none" stroke="#000" stroke-width="0.8"/>
<text x="442.20" y="163.85" style="font-family:'Liberation Sans',sans-serif;font-size:6.45px">Y240A</text>
<line x1="421.60" y1="168.58" x2="440.30" y2="168.58" stroke="#000" stroke-width="0.7"/>
<path d="M431.30,164.98 L434.90,168.58 L431.30,172.18 L427.70,168.58Z" fill="#000" stroke="#000" stroke-width="0.8"/>
<text x="442.20" y="170.78" style="font-family:'Liberation Sans',sans-serif;font-size:6.45px">D293A</text>
<line x1="421.60" y1="175.51" x2="440.30" y2="175.51" stroke="#000" stroke-width="0.7"/>
<path d="M431.30,171.91 L434.90,175.51 L431.30,179.11 L427.70,175.51Z" fill="none" stroke="#000" stroke-width="0.8"/>
<text x="442.20" y="177.71" style="font-family:'Liberation Sans',sans-serif;font-size:6.45px">D74A/D293A</text>
</svg>
</body></html>
